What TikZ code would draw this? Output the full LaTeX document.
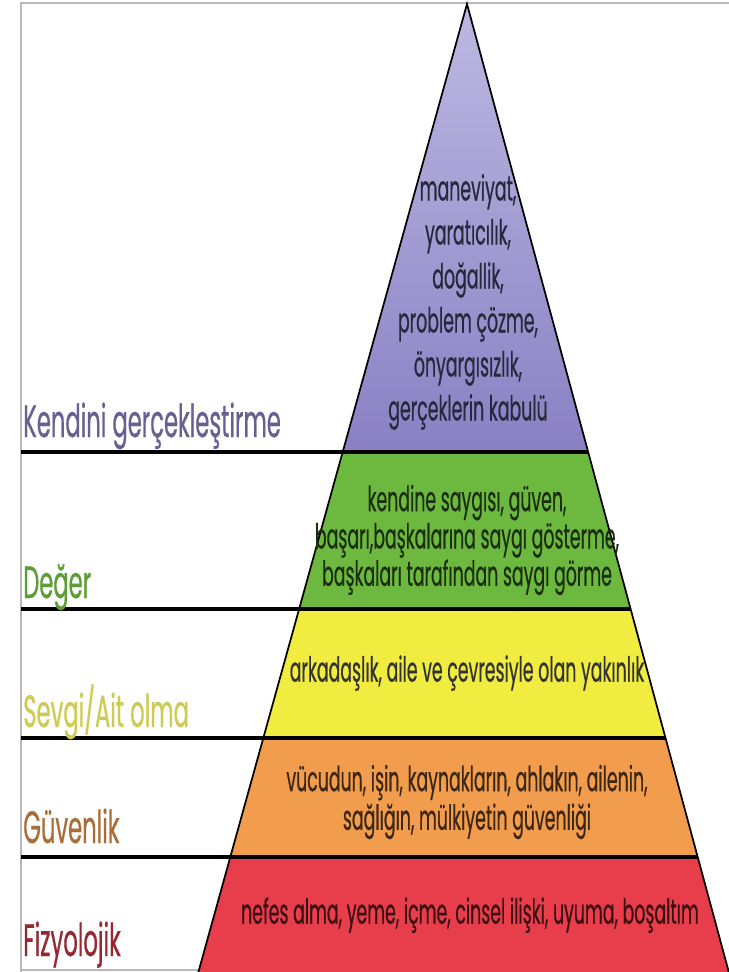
\documentclass[tikz,border=0pt]{standalone}
\usepackage{fontspec}
\setmainfont[FakeStretch=0.5,FakeBold=0.4]{Poppins}
\definecolor{purTop}{HTML}{BDB9E2}
\definecolor{purMid}{HTML}{E4E3F3}
\definecolor{purBot}{HTML}{8A80C4}
\definecolor{grnSide}{HTML}{6DB940}
\definecolor{grnMid}{HTML}{A3D57A}
\definecolor{yelSide}{HTML}{F0EC40}
\definecolor{yelMid}{HTML}{F6F58C}
\definecolor{orgSide}{HTML}{F29C4E}
\definecolor{orgMid}{HTML}{F7BD76}
\definecolor{redSide}{HTML}{E83E4C}
\definecolor{redMid}{HTML}{F06D78}
\tikzset{
  lvl/.style={anchor=base west, inner sep=0pt, font=\fontsize{34}{34}\selectfont},
  need/.style={align=center, inner sep=0pt, font=\fontsize{26}{28}\selectfont},
  divider/.style={line width=3pt, black},
}
\begin{document}
\begin{tikzpicture}[x=0.75pt,y=-0.75pt]

\def\EDGECOLOR{black}
	\useasboundingbox (0,0) rectangle (729,972);
	\fill[white] (0,0) rectangle (729,972);
	\draw[gray!55,line width=1.2pt] (21,972) -- (21,3) -- (729,3);
	\draw[gray!55,line width=1.2pt] (21,970) -- (200,970);
	\fill[top color=purTop, middle color=purMid, bottom color=purBot] (467,4) -- (588.2,452) -- (342.7,452) -- cycle;
	\fill[left color=grnSide, middle color=grnMid, right color=grnSide] (342.7,452) -- (588.2,452) -- (630.7,609) -- (299.1,609) -- cycle;
	\fill[left color=yelSide, middle color=yelMid, right color=yelSide] (299.1,609) -- (630.7,609) -- (665.5,738) -- (263.3,738) -- cycle;
	\fill[left color=orgSide, middle color=orgMid, right color=orgSide] (263.3,738) -- (665.5,738) -- (697.7,857) -- (230.3,857) -- cycle;
	\fill[left color=redSide, middle color=redMid, right color=redSide] (230.3,857) -- (697.7,857) -- (728.8,972) -- (198.4,972) -- cycle;
	\draw[\EDGECOLOR,line width=1.3pt] (198.4,972) -- (467,4) -- (728.8,972);
	\draw[divider] (21,452) -- (588.2,452);
	\draw[divider] (21,609) -- (630.7,609);
	\draw[divider] (21,738) -- (665.5,738);
	\draw[divider] (21,857) -- (697.7,857);

	\node[lvl, text=purBot!75!black] (kendini) at (23,437) {Kendini gerçekleştirme};
	\node[lvl, text=grnSide!85!black] (deger) at (23,598) {Değer};
	\node[lvl, text=yelSide!70!gray] (sevgi) at (23,727) {Sevgi/Ait olma};
	\node[lvl, text=orgSide!70!black] (guvenlik) at (23,843) {Güvenlik};
	\node[lvl, text=redSide!65!black] (fizyolojik) at (23,956) {Fizyolojik};

	\node[need, text=purBot!30!black, font=\fontsize{26}{33}\selectfont] (kendiniText) at (468,302)
		{maneviyat,\\ yaratıcılık,\\ doğallik,\\ problem çözme,\\ önyargısızlık,\\ gerçeklerin kabulü};
	\node[need, text=grnSide!25!black] (degerText) at (467,540)
		{kendine saygısı, güven,\\ başarı,başkalarına saygı gösterme,\\ başkaları tarafından saygı görme};
	\node[need, text=black!80] (sevgiText) at (467,673)
		{arkadaşlık, aile ve çevresiyle olan yakınlık};
	\node[need, text=orgSide!25!black, font=\fontsize{26}{29}\selectfont] (guvenlikText) at (467,802)
		{vücudun, işin, kaynakların, ahlakın, ailenin,\\ sağlığın, mülkiyetin güvenliği};
	\node[need, text=redSide!25!black] (fizyolojikText) at (470,915)
		{nefes alma, yeme, içme, cinsel ilişki, uyuma, boşaltım};

\end{tikzpicture}
\end{document}
